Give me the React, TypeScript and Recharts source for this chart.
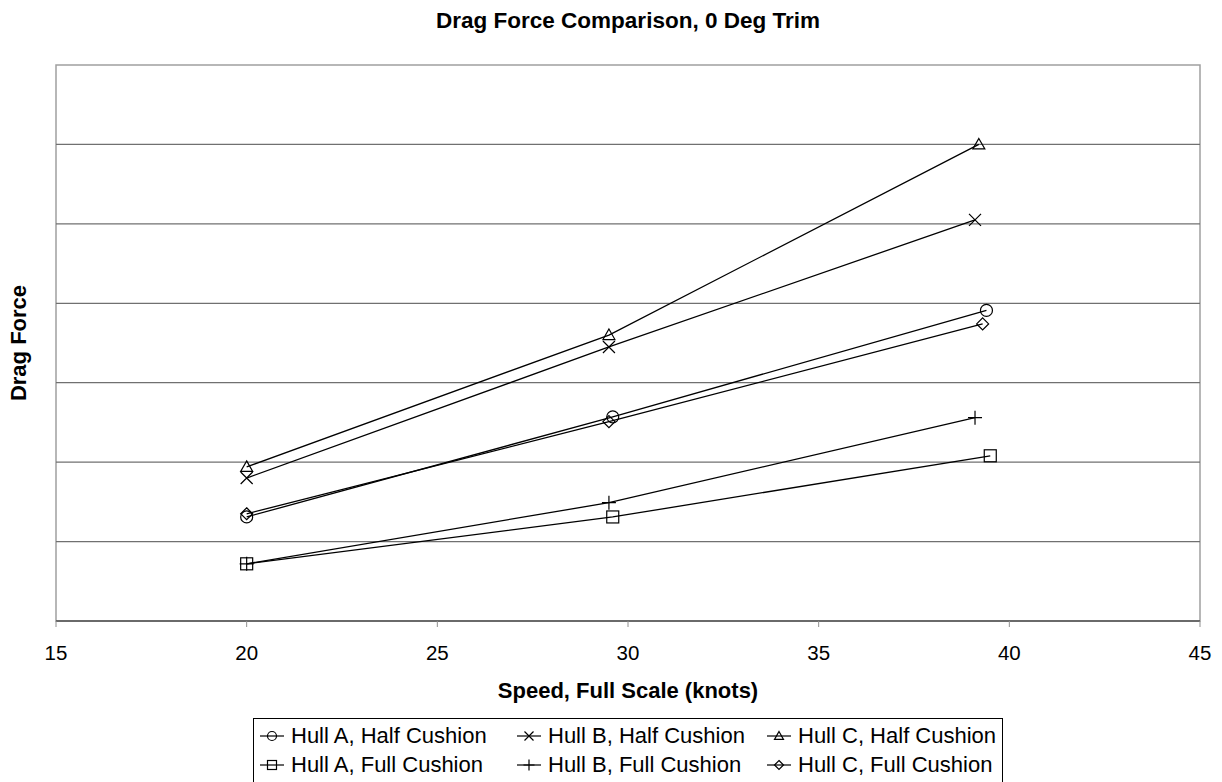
import { LineChart, Line, XAxis, YAxis, Legend, ReferenceArea, ReferenceLine, Label } from 'recharts'

type Shape = 'circle' | 'cross' | 'triangle' | 'square' | 'plus' | 'diamond'

// speeds (knots) and drag force, per series
const hullAHalfSpeed = [20.0, 29.6, 39.4]
const hullAHalfDrag = [1.31, 2.57, 3.91]
const hullBHalfSpeed = [20.0, 29.5, 39.1]
const hullBHalfDrag = [1.8, 3.45, 5.05]
const hullCHalfSpeed = [20.0, 29.5, 39.2]
const hullCHalfDrag = [1.94, 3.6, 6.0]
const hullAFullSpeed = [20.0, 29.6, 39.5]
const hullAFullDrag = [0.72, 1.31, 2.08]
const hullBFullSpeed = [20.0, 29.5, 39.1]
const hullBFullDrag = [0.72, 1.49, 2.56]
const hullCFullSpeed = [20.0, 29.5, 39.3]
const hullCFullDrag = [1.35, 2.51, 3.74]

const xTicks = [15, 20, 25, 30, 35, 40, 45]
const yTicks = [0, 1, 2, 3, 4, 5, 6, 7]
const gridValues = [1, 2, 3, 4, 5, 6]

const toRows = (speeds: number[], drags: number[]) =>
  speeds.map((speed, i) => ({ speed, drag: drags[i] }))

const series: { name: string; shape: Shape; rows: { speed: number; drag: number }[] }[] = [
  { name: 'Hull A, Half Cushion', shape: 'circle', rows: toRows(hullAHalfSpeed, hullAHalfDrag) },
  { name: 'Hull B, Half Cushion', shape: 'cross', rows: toRows(hullBHalfSpeed, hullBHalfDrag) },
  { name: 'Hull C, Half Cushion', shape: 'triangle', rows: toRows(hullCHalfSpeed, hullCHalfDrag) },
  { name: 'Hull A, Full Cushion', shape: 'square', rows: toRows(hullAFullSpeed, hullAFullDrag) },
  { name: 'Hull B, Full Cushion', shape: 'plus', rows: toRows(hullBFullSpeed, hullBFullDrag) },
  { name: 'Hull C, Full Cushion', shape: 'diamond', rows: toRows(hullCFullSpeed, hullCFullDrag) }
]

const FONT = '"Liberation Sans", Arial, sans-serif'

function Marker({ cx, cy, shape, s = 6 }: { cx: number; cy: number; shape: Shape; s?: number }) {
  const common = { fill: 'none', stroke: '#000', strokeWidth: 1.2 }
  switch (shape) {
    case 'circle':
      return <circle cx={cx} cy={cy} r={s} {...common} />
    case 'cross':
      return <path d={`M${cx - s},${cy - s}L${cx + s},${cy + s}M${cx - s},${cy + s}L${cx + s},${cy - s}`} {...common} />
    case 'triangle':
      return <path d={`M${cx},${cy - s}L${cx + s},${cy + s * 0.75}L${cx - s},${cy + s * 0.75}Z`} {...common} />
    case 'square':
      return <rect x={cx - s} y={cy - s} width={2 * s} height={2 * s} {...common} />
    case 'plus':
      return <path d={`M${cx - s - 1},${cy}L${cx + s + 1},${cy}M${cx},${cy - s - 1}L${cx},${cy + s + 1}`} {...common} />
    case 'diamond':
      return <path d={`M${cx},${cy - s}L${cx + s},${cy}L${cx},${cy + s}L${cx - s},${cy}Z`} {...common} />
    default:
      return null
  }
}

// legend keeps series order: half cushion row, then full cushion row
function LegendBox() {
  return (
    <div
      style={{
        border: '1px solid #000',
        display: 'grid',
        gridTemplateColumns: '257px 250px auto',
        padding: '2px 6px 3px 5px',
        fontFamily: FONT,
        fontSize: 22,
        background: '#fff'
      }}
    >
      {series.map((it) => (
        <div key={it.name} style={{ display: 'flex', alignItems: 'center', height: 29, whiteSpace: 'nowrap' }}>
          <svg width={26} height={20} style={{ marginRight: 6 }}>
            <line x1={1} y1={10} x2={25} y2={10} stroke="#000" strokeWidth={1.2} />
            <Marker cx={13} cy={10} shape={it.shape} s={4.5} />
          </svg>
          <span>{it.name}</span>
        </div>
      ))}
    </div>
  )
}

export default function App() {
  return (
    <div style={{ position: 'absolute', left: 0, top: 0, width: 1222, height: 782, background: '#fff' }}>
      <div
        style={{
          position: 'absolute',
          top: 8,
          left: 56,
          width: 1144,
          textAlign: 'center',
          fontFamily: FONT,
          fontWeight: 'bold',
          fontSize: 22.5,
          lineHeight: '26px'
        }}
      >
        Drag Force Comparison, 0 Deg Trim
      </div>
      <LineChart width={1222} height={782} margin={{ top: 65, right: 22, left: 0, bottom: 100 }}>
        {gridValues.map((v) => (
          <ReferenceLine key={v} y={v} stroke="#707070" strokeWidth={1.2} />
        ))}
        <ReferenceArea x1={15} x2={45} y1={0} y2={7} fill="none" stroke="#a0a0a0" strokeWidth={1.5} />
        <XAxis
          type="number"
          dataKey="speed"
          domain={[15, 45]}
          ticks={xTicks}
          allowDataOverflow
          height={61}
          tickSize={6}
          tickMargin={18}
          axisLine={{ stroke: '#505050', strokeWidth: 1.5 }}
          tickLine={{ stroke: '#909090' }}
          tick={{ fill: '#000', fontSize: 20.5, fontFamily: FONT }}
        >
          <Label
            value="Speed, Full Scale (knots)"
            position="bottom"
            offset={0}
            style={{ fontFamily: FONT, fontWeight: 'bold', fontSize: 22, fill: '#000' }}
          />
        </XAxis>
        <YAxis
          type="number"
          domain={[0, 7]}
          ticks={yTicks}
          width={56}
          tick={false}
          tickLine={false}
          axisLine={false}
        >
          <Label
            content={({ viewBox }: any) => {
              const cx = viewBox.x + 18
              const cy = viewBox.y + viewBox.height / 2
              return (
                <text
                  x={cx}
                  y={cy}
                  transform={`rotate(-90, ${cx}, ${cy})`}
                  textAnchor="middle"
                  dominantBaseline="central"
                  style={{ fontFamily: FONT, fontWeight: 'bold', fontSize: 22, fill: '#000' }}
                >
                  Drag Force
                </text>
              )
            }}
          />
        </YAxis>
        {series.map((s) => (
          <Line
            key={s.name}
            data={s.rows}
            dataKey="drag"
            name={s.name}
            type="linear"
            stroke="#000"
            strokeWidth={1.3}
            isAnimationActive={false}
            dot={(p: any) => <Marker key={`${s.name}-${p.index}`} cx={p.cx} cy={p.cy} shape={s.shape} />}
            activeDot={false}
          />
        ))}
        <Legend
          layout="horizontal"
          verticalAlign="middle"
          align="center"
          content={<LegendBox />}
          wrapperStyle={{ top: 718, left: 253, width: 'auto', height: 'auto' }}
        />
      </LineChart>
    </div>
  )
}
